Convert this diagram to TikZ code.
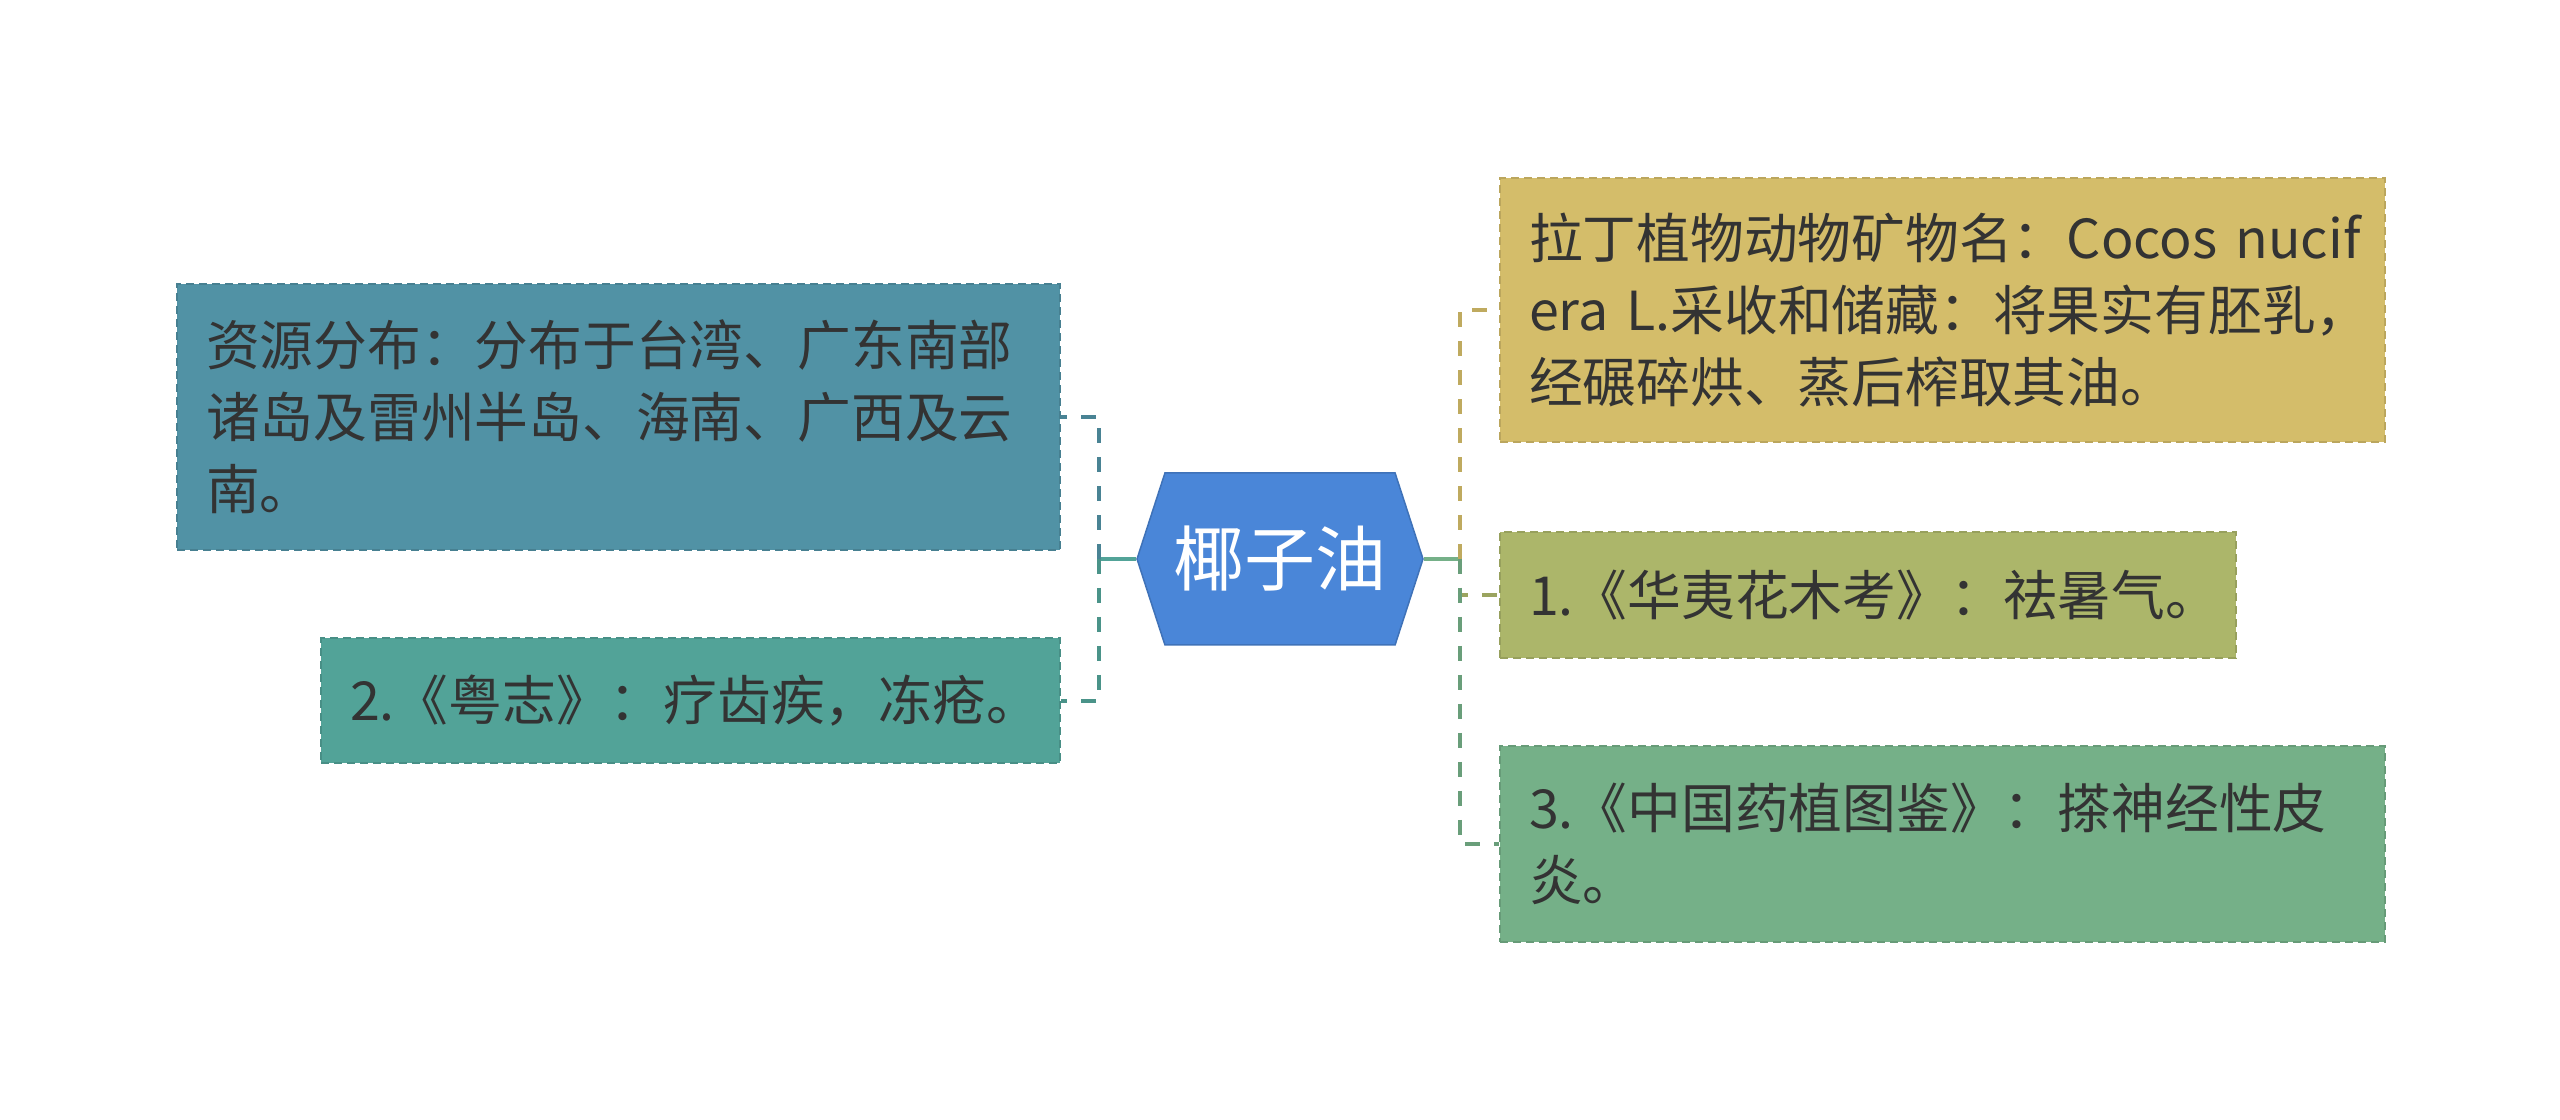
\documentclass[tikz,border=0pt]{standalone}
\usepackage{fontspec}
\setmainfont{Noto Sans CJK SC}
\usetikzlibrary{positioning,shapes.symbols}
\definecolor{rootcolor}{RGB}{74,134,216}
\definecolor{distcolor}{RGB}{81,146,165}
\definecolor{yuecolor}{RGB}{82,163,152}
\definecolor{latincolor}{RGB}{212,189,106}
\definecolor{huayicolor}{RGB}{172,182,106}
\definecolor{jiancolor}{RGB}{117,176,136}
\definecolor{textcolor}{RGB}{51,51,51}

\begin{document}
\begin{tikzpicture}[
    box/.style={draw=#1!88!black, fill=#1, dash pattern=on 0.08cm off 0.05cm,
        line width=0.02cm, text=textcolor, font=\fontsize{15.3}{20.5}\selectfont,
        align=left, inner xsep=0.29cm, inner ysep=0cm},
    link/.style={line width=0.04cm, dash pattern=on 0.15cm off 0.14cm},
    stub/.style={line width=0.045cm}
]

% Canvas: 2560 x 1120 px, 1px = 0.01cm
\fill[white] (0,0) rectangle (25.6,11.2);
\useasboundingbox (0,0) rectangle (25.6,11.2);

% Root
\node[shape=signal, signal to=west and east, signal pointer angle=144,
    fill=rootcolor, draw=rootcolor!85!black, line width=0.015cm, text=white,
    font=\fontsize{20.2}{24}\selectfont, minimum width=2.86cm, minimum height=1.72cm,
    inner sep=0pt] (root) at (12.80,5.61) {椰子油};

% Left branches
\node[box=distcolor, text width=8.25cm, minimum height=2.66cm, anchor=east] (dist) at (10.61,7.03)
    {资源分布：分布于台湾、广东南部\\诸岛及雷州半岛、海南、广西及云\\南。};
\node[box=yuecolor, text width=6.81cm, minimum height=1.25cm, anchor=east] (yue) at (10.61,4.19)
    {2.《粤志》：疗齿疾，冻疮。};

% Right branches
\node[box=latincolor, text width=8.27cm, minimum height=2.64cm, anchor=west] (latin) at (14.99,8.10)
    {\mbox{拉丁植物动物矿物名：Cocos nucif}\\\mbox{era L.采收和储藏：将果实有胚乳，}\\经碾碎烘、蒸后榨取其油。};
\node[box=huayicolor, text width=6.78cm, minimum height=1.26cm, anchor=west] (huayi) at (14.99,5.25)
    {1.《华夷花木考》：祛暑气。};
\node[box=jiancolor, text width=8.27cm, minimum height=1.96cm, anchor=west] (jian) at (14.99,2.76)
    {3.《中国药植图鉴》：搽神经性皮\\炎。};

% Connectors
\coordinate (ljoin) at (10.99,5.61);
\coordinate (rjoin) at (14.60,5.61);

\draw[stub, yuecolor] (root.west) -- (ljoin);
\draw[link, distcolor!90!black] (ljoin) |- (dist.east);
\draw[link, yuecolor!90!black] (ljoin) |- (yue.east);

\draw[stub, jiancolor] (root.east) -- (rjoin);
\draw[link, latincolor!90!black] (rjoin) |- (latin.west);
\draw[link, huayicolor!90!black] (rjoin) |- (huayi.west);
\draw[link, jiancolor!90!black] (rjoin) |- (jian.west);

\end{tikzpicture}
\end{document}
